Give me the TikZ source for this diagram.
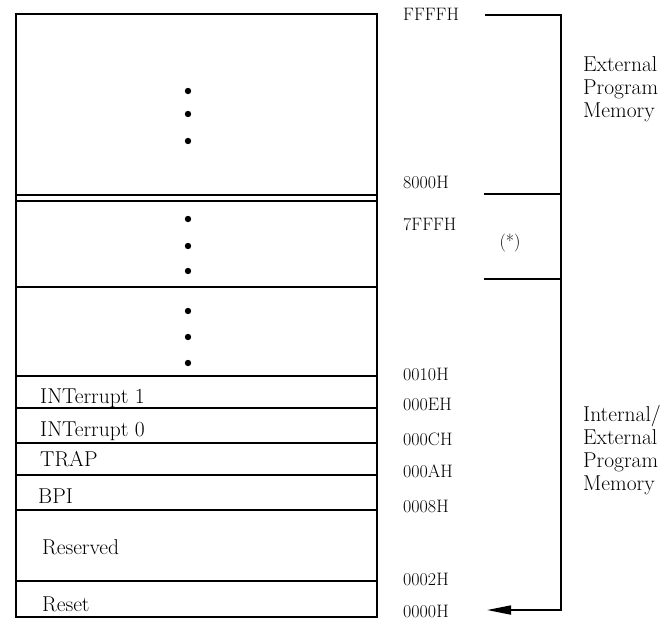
\documentclass[tikz,border=0pt]{standalone}
\usetikzlibrary{arrows.meta}
\begin{document}
\begin{tikzpicture}[x=1pt,y=-1pt,
	addr/.style={anchor=base west,inner sep=0pt,font=\fontsize{18}{20}\selectfont},
	slot/.style={anchor=base west,inner sep=0pt,font=\fontsize{21.5}{24}\selectfont},
	area/.style={anchor=north west,inner sep=0pt,align=left,font=\fontsize{21.5}{23}\selectfont},
	rule/.style={line width=1.2pt},
	brk/.style={line width=1.7pt}]
	\useasboundingbox (0,0) rectangle (667,624);

	% memory map
	\draw [line width=1.6pt] (16,14) rectangle (377,617);
	\foreach \y in {195,201,287,376,408,443,475,510,581}
		\draw [rule] (16,\y) -- (377,\y);
	\foreach \y in {91,114,141,219,246,271,311,337,363}
		\fill (188,\y) circle (3.2pt);

	\node [slot] (int1) at (40,403) {INTerrupt 1};
	\node [slot] (int0) at (40,436) {INTerrupt 0};
	\node [slot] (trap) at (40,466) {TRAP};
	\node [slot] (bpi) at (38,503) {BPI};
	\node [slot] (resv) at (42,554) {Reserved};
	\node [slot] (reset) at (42,611) {Reset};

	% addresses
	\node [addr] (aFFFF) at (403,20) {FFFFH};
	\node [addr] (a8000) at (403,188) {8000H};
	\node [addr] (a7FFF) at (403,230) {7FFFH};
	\node [addr] (a0010) at (403,380) {0010H};
	\node [addr] (a000E) at (403,410) {000EH};
	\node [addr] (a000C) at (403,445) {000CH};
	\node [addr] (a000A) at (403,477) {000AH};
	\node [addr] (a0008) at (403,512) {0008H};
	\node [addr] (a0002) at (403,585) {0002H};
	\node [addr] (a0000) at (403,617) {0000H};

	% bracket
	\coordinate (topL) at (485,15);
	\coordinate (topR) at (561,15);
	\coordinate (botR) at (561,610);
	\coordinate (tip) at (487,610);
	\coordinate (midA) at (484,194);
	\coordinate (midB) at (484,279);
	\draw [brk,-{Triangle[length=24pt,width=9pt]}] (topL) -- (topR) -- (botR) -- (tip);
	\draw [brk] (midA) -- (midA -| botR);
	\draw [brk] (midB) -- (midB -| botR);
	\node [addr,anchor=center] (star) at (510,243) {(*)};

	\node [area] (ext) at (583,56) {External\\Program\\Memory};
	\node [area] (intext) at (583,405) {Internal/\\External\\Program\\Memory};
\end{tikzpicture}
\end{document}
